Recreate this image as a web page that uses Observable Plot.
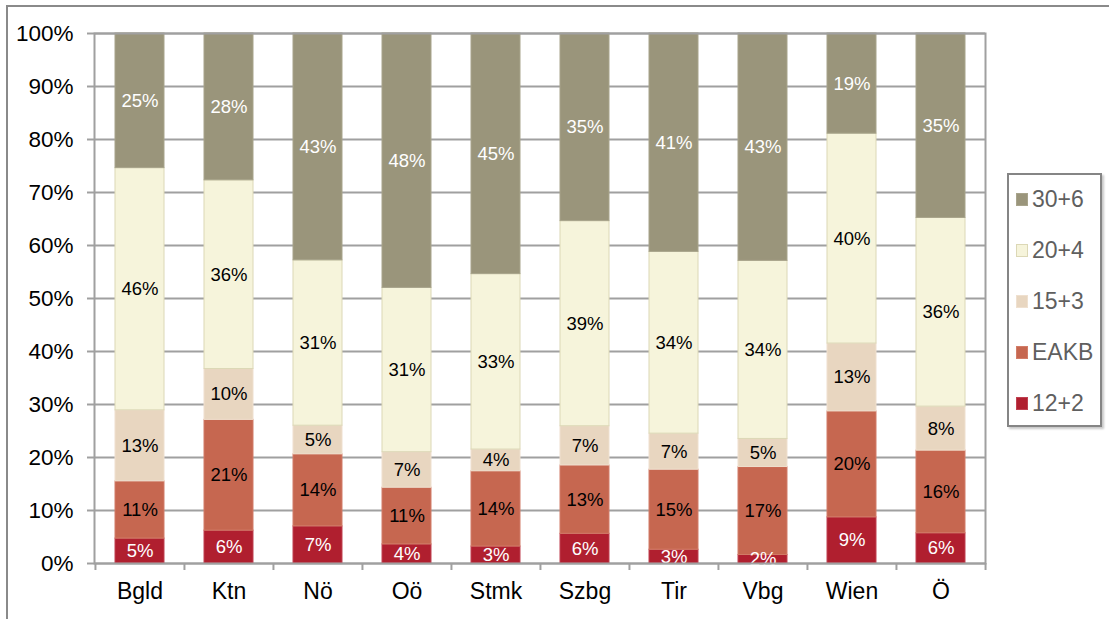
<!DOCTYPE html>
<html><head><meta charset="utf-8">
<script src="https://cdn.jsdelivr.net/npm/d3@7"></script>
<script src="https://cdn.jsdelivr.net/npm/@observablehq/plot@0.6"></script>
<style>
body{margin:0;background:#fff;font-family:"Liberation Sans",Arial,sans-serif;}
#wrap{position:relative;width:1109px;height:619px;overflow:hidden;}
#frame{position:absolute;left:6px;top:5px;width:1110px;height:630px;border-top:2px solid #8a8a8a;border-left:2px solid #8a8a8a;}
#chart{position:absolute;left:0;top:0;}
#legend{position:absolute;left:1007px;top:173px;width:91px;height:250px;border:2px solid #858585;box-shadow:2px 2px 2px #c8c8c8;background:#fff;}
.item{position:absolute;left:7px;height:24px;display:flex;align-items:center;font-size:23px;color:#5f5f5f;white-space:nowrap;}
.sw{width:12px;height:13px;margin-right:4px;box-sizing:border-box;}
</style></head>
<body><div id="wrap"><div id="frame"></div><div id="chart"></div><div id="legend"></div></div>
<script>
const categories = ["Bgld","Ktn","Nö","Oö","Stmk","Szbg","Tir","Vbg","Wien","Ö"];
const series = ["12+2","EAKB","15+3","20+4","30+6"];
const v12_2 = [4.7,6.2,7.0,3.6,3.2,5.6,2.6,1.6,8.7,5.7];
const vEAKB = [10.8,20.9,13.6,10.7,14.2,12.9,15.1,16.6,20.0,15.6];
const v15_3 = [13.4,9.6,5.4,6.7,4.1,7.4,6.8,5.3,12.8,8.3];
const v20_4 = [45.7,35.6,31.2,31.0,33.1,38.7,34.3,33.6,39.6,35.6];
const v30_6 = [25.4,27.7,42.8,48.0,45.4,35.4,41.2,42.9,18.9,34.8];
const yTicks = [0,10,20,30,40,50,60,70,80,90,100];
const seriesColors = ["#b01f2f","#c66750","#e8d6c0","#f6f4db","#9a957b"];
const seriesStrokes = ["#bf4050","#d27d68","#efe0cf","#dcd8b6","#a8a48c"];
const labelColors = ["#ffffff","#000000","#000000","#000000","#ffffff"];
const seriesValues = [v12_2, vEAKB, v15_3, v20_4, v30_6];

const data = [];
categories.forEach((c, ci) => {
  series.forEach((s, si) => {
    data.push({cat: c, series: s, si, value: seriesValues[si][ci]});
  });
});

const W = 1109, H = 619, mL = 94, mR = 124, mT = 33, mB = 56;
const step = (W - mL - mR) / categories.length;
const gray = "#a0a0a0";

const chart = Plot.plot({
  width: W, height: H,
  marginLeft: mL, marginRight: mR, marginTop: mT, marginBottom: mB,
  style: {fontFamily: "'Liberation Sans', Arial, sans-serif", background: "transparent", color: "#000", overflow: "visible"},
  x: {domain: categories, paddingInner: 0.45, paddingOuter: 0.225, label: null},
  y: {domain: [0, 100], label: null},
  marks: [
    Plot.gridY(yTicks, {stroke: gray, strokeOpacity: 1, strokeWidth: 2}),
    Plot.barY(data, {x: "cat", y: "value", fill: d => seriesColors[d.si], stroke: d => seriesStrokes[d.si], strokeWidth: 1}),
    Plot.text(data, Plot.stackY({x: "cat", y: "value", text: d => Math.round(d.value) + "%", fill: d => labelColors[d.si], fontSize: 18.5})),
    Plot.frame({stroke: gray, strokeWidth: 2}),
    Plot.axisY(yTicks, {tickSize: 7, tickPadding: 14, tickFormat: d => d + "%", fontSize: 22.5, stroke: gray, strokeWidth: 2, fill: "#000", label: null}),
    Plot.axisX({tickSize: 0, tickPadding: 19, fontSize: 23, fill: "#000", label: null}),
    Plot.ruleX(categories, {x: d => d, dx: -step / 2, y1: 0, y2: 0, insetBottom: -7, stroke: gray, strokeWidth: 2}),
    Plot.ruleX([categories[categories.length - 1]], {x: d => d, dx: step / 2, y1: 0, y2: 0, insetBottom: -7, stroke: gray, strokeWidth: 2})
  ]
});
document.getElementById("chart").appendChild(chart);

const legend = document.getElementById("legend");
const legendOrder = [4, 3, 2, 1, 0];
legendOrder.forEach((si, k) => {
  const item = document.createElement("div");
  item.className = "item";
  item.style.top = (12 + k * 51) + "px";
  const sw = document.createElement("div");
  sw.className = "sw";
  sw.style.background = seriesColors[si];
  sw.style.border = "1px solid " + seriesStrokes[si];
  const t = document.createElement("span");
  t.textContent = series[si];
  item.appendChild(sw);
  item.appendChild(t);
  legend.appendChild(item);
});
</script>
</body></html>
